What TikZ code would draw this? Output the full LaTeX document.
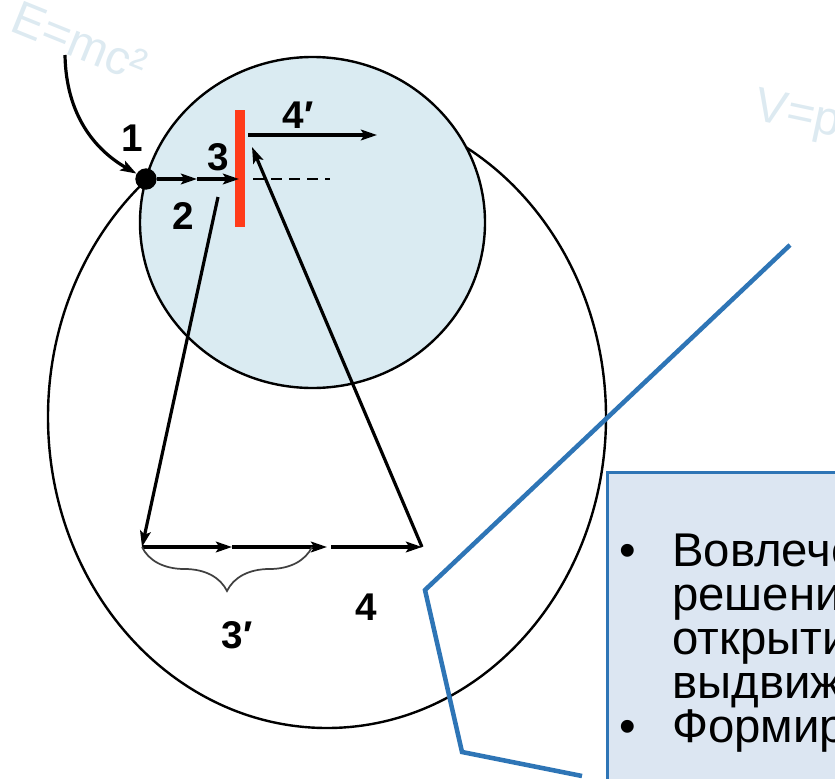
\documentclass[tikz,border=0pt]{standalone}
\usepackage{fontspec}
\setmainfont{Liberation Sans}
\usetikzlibrary{arrows.meta, decorations.pathreplacing}

\definecolor{disc_color}{HTML}{DAEBF2}
\definecolor{bar_color}{HTML}{FF3B1A}
\definecolor{line_color}{HTML}{2E75B6}
\definecolor{panel_color}{HTML}{DCE6F2}
\definecolor{faint_color}{HTML}{DDEAF1}

\begin{document}
\begin{tikzpicture}[
    x=0.75pt, y=-0.75pt,
    >={Stealth[length=12pt, width=8pt, inset=2.5pt]},
    num/.style={font=\fontsize{29}{29}\selectfont\bfseries, inner sep=0pt},
    arrow/.style={->, line width=2.4pt},
    outline/.style={draw=black, line width=1.8pt},
    boxtext/.style={font=\fontsize{35.5}{35.5}\selectfont, inner sep=0pt, anchor=base west},
    faint/.style={font=\fontsize{36}{36}\selectfont, text=faint_color, inner sep=0pt}
]

\useasboundingbox (0,0) rectangle (835,778);
\clip (0,0) rectangle (835,778);

% Background marks
\node[faint, rotate=-22] (emc) at (80,42) {E=mc²};
\node[faint, rotate=-12, anchor=west] (vp) at (755,108) {V=p};

% Outer ellipse and disc
\draw[outline] (327,417) ellipse [x radius=279, y radius=311];
\filldraw[outline, fill=disc_color] (312.5,222.5) ellipse [x radius=172.5, y radius=165.5];

% Screen
\draw[bar_color, line width=7.5pt] (240,110) -- (240,227);

% Points
\node[circle, fill=black, minimum size=16pt, inner sep=0pt] (dot) at (146,179) {};
\coordinate (src) at (65,55);
\coordinate (m1) at (197,179);
\coordinate (hit) at (239,179);
\coordinate (d1) at (253,179);
\coordinate (d2) at (330,179);
\coordinate (r1) at (248,135);
\coordinate (r2) at (377,135);
\coordinate (s1) at (218,197);
\coordinate (p0) at (142,547);
\coordinate (p1) at (232,547);
\coordinate (p2) at (327,547);
\coordinate (q1) at (331,547);
\coordinate (p3) at (422,547);
\coordinate (t1) at (252,147);
\coordinate (br) at (312,547);

% Arrows
\draw[arrow] (src) .. controls (66,115) and (95,150) .. (dot);
\draw[arrow] (dot) -- (m1);
\draw[arrow] (m1) -- (hit);
\draw[line width=1.8pt, dash pattern=on 8pt off 5.5pt] (d1) -- (d2);
\draw[arrow] (r1) -- (r2);
\draw[arrow] (s1) -- (p0);
\draw[arrow] (p0) -- (p1);
\draw[arrow] (p1) -- (p2);
\draw[arrow] (q1) -- (p3);
\draw[arrow] (p3) -- (t1);

% Brace
\draw[black!75, line width=1.3pt, decorate, decoration={brace, mirror, amplitude=33pt}] (p0) -- (br);

% Labels
\node[num] (n1) at (132,138) {1};
\node[num] (n2) at (183,216) {2};
\node[num] (n3) at (218,157) {3};
\node[num] (n4p) at (298,115) {4′};
\node[num] (n3p) at (237,635) {3′};
\node[num] (n4) at (366,607) {4};

% Callout line
\draw[line_color, line width=3.4pt, line join=miter] (790,245) -- (425,590) -- (462,752) -- (582,776);

% Panel
\node[draw=line_color, fill=panel_color, line width=2.4pt, anchor=north west,
      minimum width=260, minimum height=330, inner sep=0pt] (panel) at (606,471) {};
\node[boxtext, anchor=base] (b1) at (628,566) {•};
\node[boxtext, anchor=base] (b2) at (628,742) {•};
\foreach \t [count=\i] in {Вовлече, решени, открыти, выдвиж, Формир}
    \node[boxtext] (t\i) at (672,{566+44*(\i-1)}) {\t};

\end{tikzpicture}
\end{document}
